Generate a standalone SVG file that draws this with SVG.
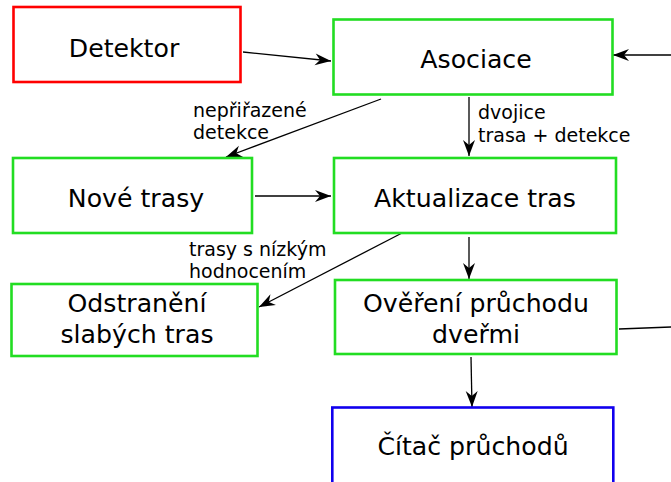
<svg xmlns="http://www.w3.org/2000/svg" width="671" height="482" viewBox="0 0 671 482">
<style>
.box{fill:#fff;stroke-width:2.6}
.g{stroke:#22dd22}
.r{stroke:#ff0000}
.b{stroke:#1100ee}
.t{font-family:"DejaVu Sans",sans-serif;font-size:25.2px;fill:#000;text-anchor:middle}
.s{font-family:"DejaVu Sans",sans-serif;font-size:19px;fill:#000}
.c{stroke:#000;stroke-width:1.3;fill:none;marker-end:url(#ah)}
</style>
<defs>
<marker id="ah" markerUnits="userSpaceOnUse" markerWidth="20" markerHeight="16" viewBox="-16 -8 18 16" refX="0" refY="0" orient="auto">
<path d="M0,0 L-16,-6 L-11,0 L-16,6 Z" fill="#000"/>
</marker>
</defs>
<rect width="671" height="482" fill="#fff"/>
<g id="connectors">
<line class="c" x1="243" y1="52" x2="331" y2="61"/>
<line class="c" x1="671" y1="55" x2="613" y2="55"/>
<line class="c" x1="381" y1="99" x2="226" y2="157"/>
<line class="c" x1="469" y1="97" x2="469" y2="156"/>
<line class="c" x1="255" y1="196" x2="331" y2="196"/>
<line class="c" x1="402" y1="233" x2="259" y2="307"/>
<line class="c" x1="469" y1="237" x2="469" y2="279"/>
<line x1="619" y1="329" x2="671" y2="327" stroke="#000" stroke-width="1.3"/>
<line class="c" x1="471" y1="357" x2="472" y2="407"/>
</g>
<g id="labels">
<text class="s" x="193" y="117">nepřiřazené</text>
<text class="s" x="193" y="139">detekce</text>
<text class="s" x="478" y="119">dvojice</text>
<text class="s" x="478" y="142">trasa + detekce</text>
<text class="s" x="189" y="256">trasy s nízkým</text>
<text class="s" x="189" y="278">hodnocením</text>
</g>
<g id="detektor">
<rect class="box r" x="13.5" y="7" width="227" height="75"/>
<text class="t" x="124" y="57">Detektor</text>
</g>
<g id="asociace">
<rect class="box g" x="333.5" y="19.5" width="279" height="75"/>
<text class="t" x="476" y="68">Asociace</text>
</g>
<g id="nove-trasy">
<rect class="box g" x="13" y="158" width="239" height="75"/>
<text class="t" x="136" y="207">Nové trasy</text>
</g>
<g id="aktualizace">
<rect class="box g" x="334" y="158" width="282" height="75"/>
<text class="t" x="475" y="207">Aktualizace tras</text>
</g>
<g id="odstraneni">
<rect class="box g" x="11.5" y="284" width="246" height="72"/>
<text class="t" x="137" y="312">Odstranění</text>
<text class="t" x="137" y="343">slabých tras</text>
</g>
<g id="overeni">
<rect class="box g" x="335" y="280" width="281.5" height="74"/>
<text class="t" x="476" y="312">Ověření průchodu</text>
<text class="t" x="476" y="343">dveřmi</text>
</g>
<g id="citac">
<rect class="box b" x="332.3" y="407.5" width="281" height="80"/>
<text class="t" x="473" y="455">Čítač průchodů</text>
</g>
</svg>
